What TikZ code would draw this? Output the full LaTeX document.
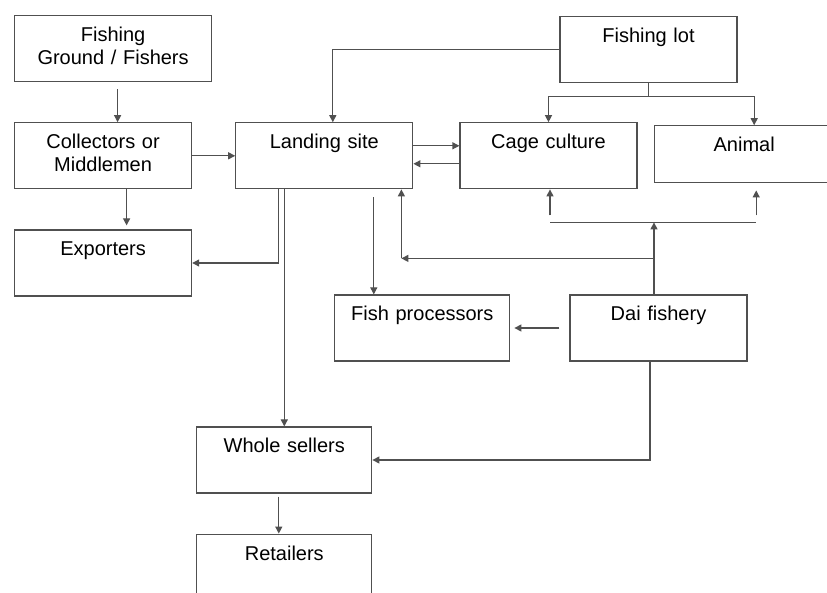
\documentclass[tikz,border=0pt]{standalone}
\usepackage{fontspec}
\setmainfont{Liberation Sans}
\usepackage{tikz}
\usetikzlibrary{arrows.meta,positioning}
\definecolor{edgegrey}{RGB}{80,80,80}

\begin{document}
\begin{tikzpicture}[
  x=0.5pt, y=-0.5pt,
  node distance=20pt and 21.5pt,
  box/.style={rectangle, draw=edgegrey, line width=0.6pt,
    text width=88.5pt, inner xsep=0pt, inner ysep=5.8pt,
    text height=7.2pt, text depth=14.2pt, align=center,
    font=\fontsize{10pt}{11.5pt}\selectfont},
  arw/.style={-{Triangle[length=3.5pt,width=3.5pt]}, edgegrey, line width=0.6pt},
  ln/.style={edgegrey, line width=0.6pt},
]
  \useasboundingbox (0,0) rectangle (827,593);

  \node[box, text width=98.5pt, anchor=north west] (fground) at (14,15) {Fishing\\Ground / Fishers};
  \node[box, below=of fground.south west, anchor=north west] (collect) {Collectors or\\Middlemen};
  \node[box, below=of collect.south west, anchor=north west] (export) {Exporters};
  \node[box, right=of collect] (landing) {Landing site};
  \node[box, right=23pt of landing] (cage) {Cage culture};
  \node[box, right=8pt of cage.north east, anchor=north west, yshift=-1.5pt,
    text width=90pt, text depth=9.7pt] (animal) {Animal};
  \node[box, above=19.5pt of cage.north west, anchor=south west, xshift=50pt] (fishlot) {Fishing lot};
  \node[box, below=52.5pt of cage.south west, anchor=north west, xshift=55pt] (dai) {Dai fishery};
  \node[box, left=29.5pt of dai, text width=87.5pt] (fproc) {Fish processors};
  \node[box, below=118.5pt of landing.south west, anchor=north west, xshift=-19.5pt,
    text width=87.5pt] (whole) {Whole sellers};
  \node[box, below=of whole.south west, anchor=north west, text width=87.5pt] (retail) {Retailers};

  \coordinate (dstem) at ([xshift=-2.25pt]dai.north);
  \coordinate (lturn) at ([xshift=-6pt,yshift=-34.5pt]landing.south east);
  \coordinate (cagein) at ([xshift=0.75pt]cage.south);
  \coordinate (animalin) at ([xshift=6pt,yshift=-3.5pt]animal.south);
  \coordinate (procin) at ([xshift=-24.25pt]fproc.north);

  \draw[arw] ([xshift=2.25pt,yshift=-3.5pt]fground.south) -- ([xshift=7.25pt]collect.north);
  \draw[arw] ([xshift=11.75pt]collect.south) -- ([xshift=11.75pt,yshift=2pt]export.north);
  \draw[arw] (collect) -- (landing);
  \draw[arw] ([xshift=-22.75pt]landing.south) |- (export.east);
  \draw[arw] (landing.south -| whole.north) -- (whole.north);
  \draw[arw] (procin |- landing.south) ++(0,-4pt) -- (procin);
  \draw[arw] ([yshift=5pt]landing.east) -- ([yshift=5pt]cage.west);
  \draw[arw] ([yshift=-4pt]cage.west) -- ([yshift=-4pt]landing.east);

  \draw[arw] (fishlot.west) -| ([xshift=4.25pt]landing.north);
  \draw[ln] (fishlot.south) -- ++(0,-6.5pt) coordinate (ftee);
  \draw[arw] (ftee) -| (cage.north);
  \draw[arw] (ftee) -| ([xshift=5pt]animal.north);

  \draw[arw] (dstem) -- ++(0,36pt) coordinate (dtop);
  \draw[ln] (cagein |- dtop) -- (animalin |- dtop);
  \draw[arw] (cagein |- dtop) ++(0,3.5pt) -- (cagein);
  \draw[arw] (animalin |- dtop) ++(0,3.5pt) -- (animalin);
  \draw[arw] (dstem |- lturn) -- (lturn);
  \draw[arw] (lturn) -- (lturn |- landing.south);

  \draw[arw] ([xshift=-5pt]dai.west) -- ([xshift=2pt]fproc.east);
  \draw[arw] ([xshift=-4.25pt]dai.south) |- (whole.east);
  \draw[arw] ([xshift=-2.75pt,yshift=-1.5pt]whole.south) -- ([xshift=-2.75pt]retail.north);
\end{tikzpicture}
\end{document}
